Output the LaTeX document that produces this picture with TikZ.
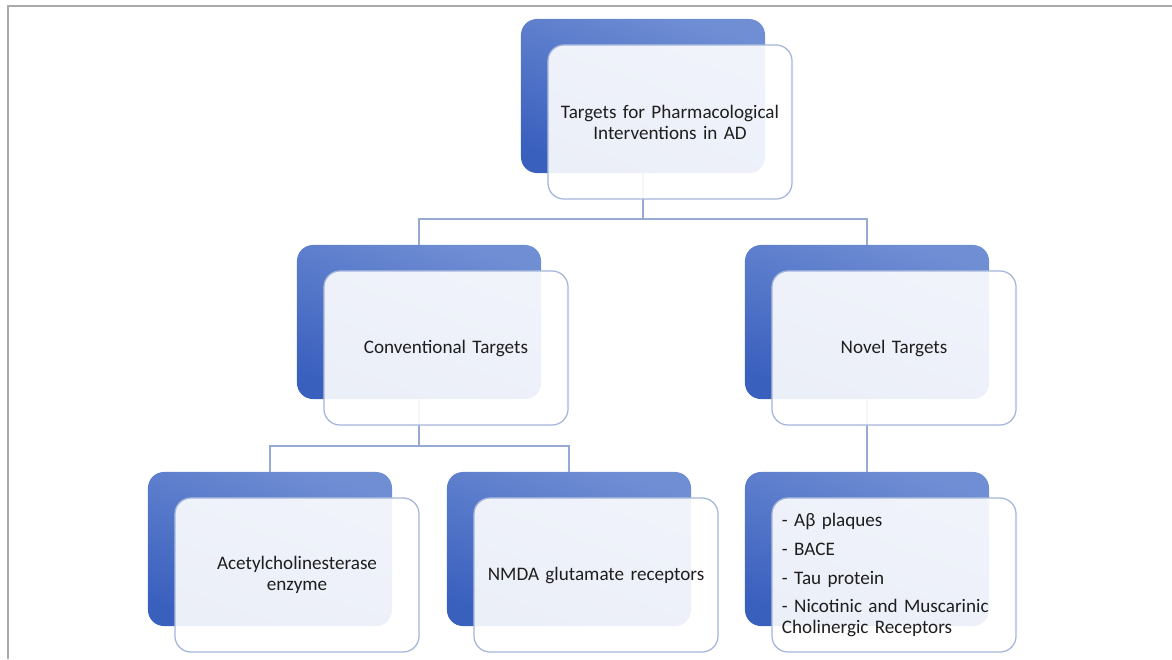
\documentclass[tikz,border=0pt]{standalone}
\usepackage{fontspec}
\setmainfont{Carlito}
\usetikzlibrary{positioning, calc}
\definecolor{bluChiaro}{RGB}{112,142,212}
\definecolor{bluScuro}{RGB}{58,96,190}
\definecolor{bordoBox}{RGB}{164,182,218}
\definecolor{lineaBlu}{RGB}{150,170,210}
\definecolor{grigioCornice}{RGB}{170,170,170}
\definecolor{testoScuro}{RGB}{30,30,30}

\tikzset{
  backbox/.style={rounded corners=0.4cm, minimum width=6.1cm, minimum height=3.85cm,
    inner sep=0pt, top color=bluChiaro, bottom color=bluScuro, shading angle=-20},
  frontbox/.style={draw=bordoBox, line width=0.9pt, rounded corners=0.4cm,
    fill=white, fill opacity=0.9, text opacity=1, minimum width=6.1cm,
    minimum height=3.85cm, inner xsep=0.25cm, text width=5.6cm, align=center,
    text=testoScuro, font=\fontsize{13.6}{14.9}\selectfont},
  conn/.style={draw=lineaBlu, line width=0.9pt}
}

\begin{document}
\begin{tikzpicture}[x=0.025cm, y=-0.025cm]
  \useasboundingbox (0,0) rectangle (1172,659);

  % Frame
  \draw[grigioCornice, line width=1.4pt] (8,659) -- (8,6) -- (1172,6);

  % Back boxes (blue)
  \node[backbox] (bTop)   at (643,96)  {};
  \node[backbox] (bConv)  at (419,322) {};
  \node[backbox] (bNovel) at (867,322) {};
  \node[backbox] (bAcet)  at (270,549) {};
  \node[backbox] (bNmda)  at (569,549) {};
  \node[backbox] (bList)  at (867,549) {};

  % Connectors
  \coordinate (j1) at (643,219);
  \coordinate (j2) at (419,446);
  \draw[conn] (bTop.south) -- (j1) -| (bConv.north);
  \draw[conn] (j1) -| (bNovel.north);
  \draw[conn] (bConv.south) -- (j2) -| (bAcet.north);
  \draw[conn] (j2) -| (bNmda.north);
  \draw[conn] (bNovel.south) -- (bList.north);

  % Front boxes (text)
  \node[frontbox] (fTop)   at ($(bTop)+(27,26)$)   {Targets for Pharmacological\\Interventions in AD};
  \node[frontbox] (fConv)  at ($(bConv)+(27,26)$)  {Conventional Targets};
  \node[frontbox] (fNovel) at ($(bNovel)+(27,26)$) {Novel Targets};
  \node[frontbox] (fAcet)  at ($(bAcet)+(27,26)$)  {Acetylcholinesterase\\enzyme};
  \node[frontbox] (fNmda)  at ($(bNmda)+(27,26)$)  {NMDA glutamate receptors};
  \node[frontbox, align=left] (fList) at ($(bList)+(27,26)$)
    {- Aβ plaques\\[5.7pt]- BACE\\[5.7pt]- Tau protein\\[5.7pt]- Nicotinic and Muscarinic\\Cholinergic Receptors};
\end{tikzpicture}
\end{document}
